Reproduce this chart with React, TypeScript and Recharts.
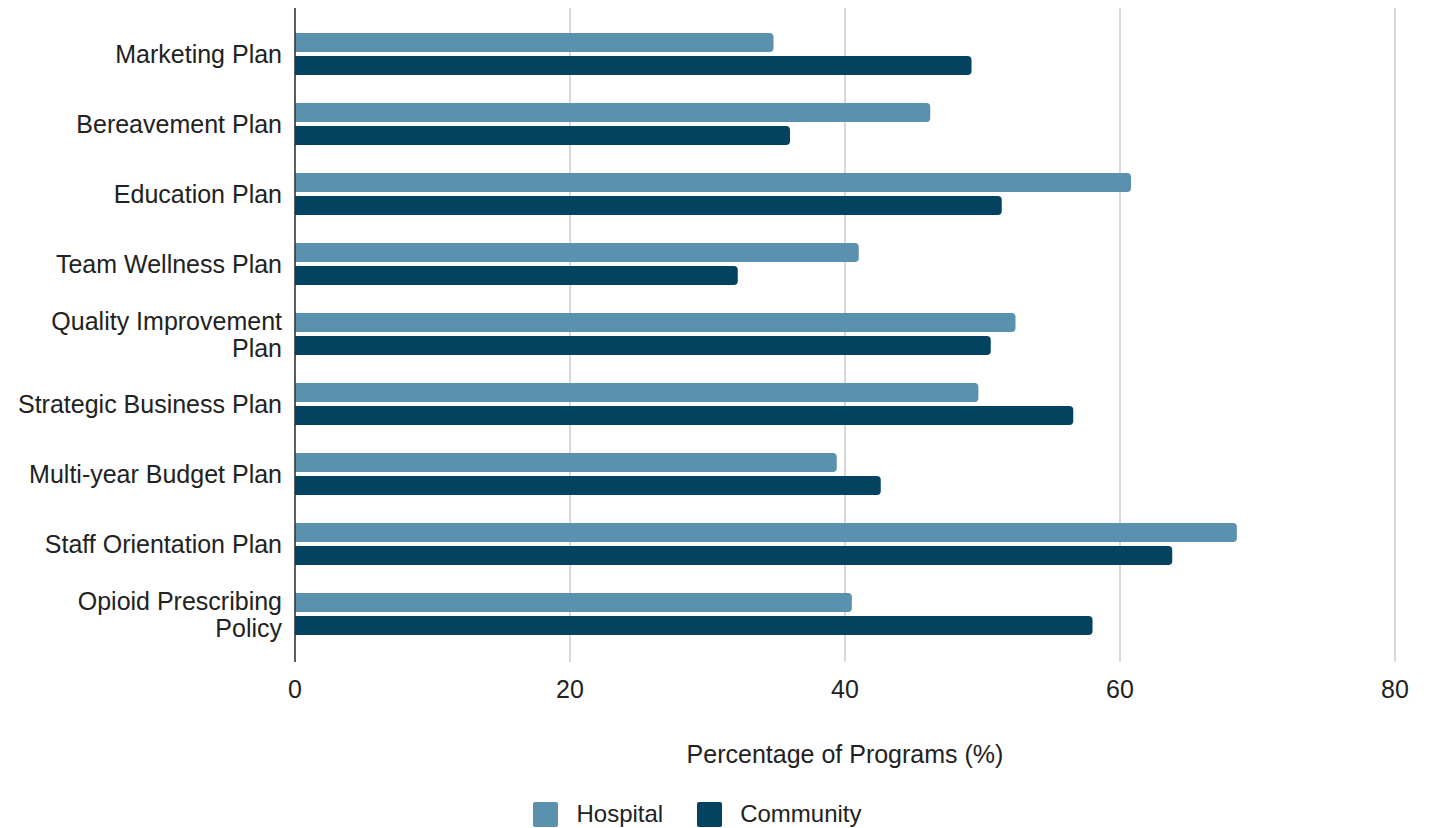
import { BarChart, Bar, XAxis, YAxis, CartesianGrid, Legend } from 'recharts'

const categories = [
    'Marketing Plan',
    'Bereavement Plan',
    'Education Plan',
    'Team Wellness Plan',
    'Quality Improvement Plan',
    'Strategic Business Plan',
    'Multi-year Budget Plan',
    'Staff Orientation Plan',
    'Opioid Prescribing Policy',
]

const hospital = [34.8, 46.2, 60.8, 41.0, 52.4, 49.7, 39.4, 68.5, 40.5]
const community = [49.2, 36.0, 51.4, 32.2, 50.6, 56.6, 42.6, 63.8, 58.0]

const xTicks = [0, 20, 40, 60, 80]

const HOSPITAL_COLOR = '#5a91ae'
const COMMUNITY_COLOR = '#03435f'
const FONT = '"Liberation Sans", Arial, sans-serif'
const FONT_SIZE = 25
const LINE_HEIGHT = 27

const chartData = categories.map((name, i) => ({
    name,
    hospital: hospital[i],
    community: community[i],
}))

// long labels go onto two lines, last word moves down
const splitLabel = (label: string) => {
    if (label.length <= 23) return [label]
    const idx = label.lastIndexOf(' ')
    return [label.slice(0, idx), label.slice(idx + 1)]
}

const CategoryTick = (props: any) => {
    const { x, y, payload } = props
    const lines = splitLabel(String(payload.value))
    const startY = y - ((lines.length - 1) * LINE_HEIGHT) / 2
    return (
        <text
            x={x}
            y={startY}
            textAnchor="end"
            dominantBaseline="central"
            fontSize={FONT_SIZE}
            fontFamily={FONT}
            fill="#222"
        >
            {lines.map((line, i) => (
                <tspan key={i} x={x} y={startY + i * LINE_HEIGHT}>
                    {line}
                </tspan>
            ))}
        </text>
    )
}

const LegendContent = () => {
    const items = [
        { label: 'Hospital', color: HOSPITAL_COLOR },
        { label: 'Community', color: COMMUNITY_COLOR },
    ]
    return (
        <div
            style={{
                display: 'flex',
                justifyContent: 'center',
                alignItems: 'center',
                height: 28,
                paddingTop: 18,
                fontFamily: FONT,
                fontSize: 24,
                color: '#222',
            }}
        >
            {items.map((item, i) => (
                <div
                    key={item.label}
                    style={{ display: 'flex', alignItems: 'center', marginLeft: i === 0 ? 0 : 34 }}
                >
                    <span
                        style={{
                            width: 25,
                            height: 25,
                            borderRadius: 2,
                            background: item.color,
                            marginRight: 18,
                            display: 'inline-block',
                        }}
                    />
                    <span>{item.label}</span>
                </div>
            ))}
        </div>
    )
}

export default function App() {
    return (
        <div style={{ position: 'absolute', left: 0, top: 0, background: '#fff' }}>
            <BarChart
                width={1430}
                height={828}
                data={chartData}
                layout="vertical"
                margin={{ top: 8, right: 35, bottom: 0, left: 0 }}
                barSize={19}
                barGap={4}
            >
                <CartesianGrid horizontal={false} stroke="#cccccc" strokeWidth={1.5} />
                <XAxis
                    type="number"
                    domain={[0, 80]}
                    ticks={xTicks}
                    axisLine={false}
                    tickLine={false}
                    tickMargin={12}
                    height={120}
                    tick={{ fontSize: FONT_SIZE, fontFamily: FONT, fill: '#222' }}
                    label={{
                        value: 'Percentage of Programs (%)',
                        position: 'insideBottom',
                        offset: 19,
                        style: { fontSize: FONT_SIZE, fontFamily: FONT, fill: '#222' },
                    }}
                />
                <YAxis
                    type="category"
                    dataKey="name"
                    width={295}
                    padding={{ top: 11, bottom: 13 }}
                    axisLine={{ stroke: '#333', strokeWidth: 1.5 }}
                    tickLine={false}
                    tickMargin={7}
                    interval={0}
                    tick={<CategoryTick />}
                />
                <Legend verticalAlign="bottom" height={46} content={<LegendContent />} />
                <Bar
                    dataKey="hospital"
                    name="Hospital"
                    fill={HOSPITAL_COLOR}
                    radius={[0, 4, 4, 0]}
                    isAnimationActive={false}
                />
                <Bar
                    dataKey="community"
                    name="Community"
                    fill={COMMUNITY_COLOR}
                    radius={[0, 4, 4, 0]}
                    isAnimationActive={false}
                />
            </BarChart>
        </div>
    )
}
